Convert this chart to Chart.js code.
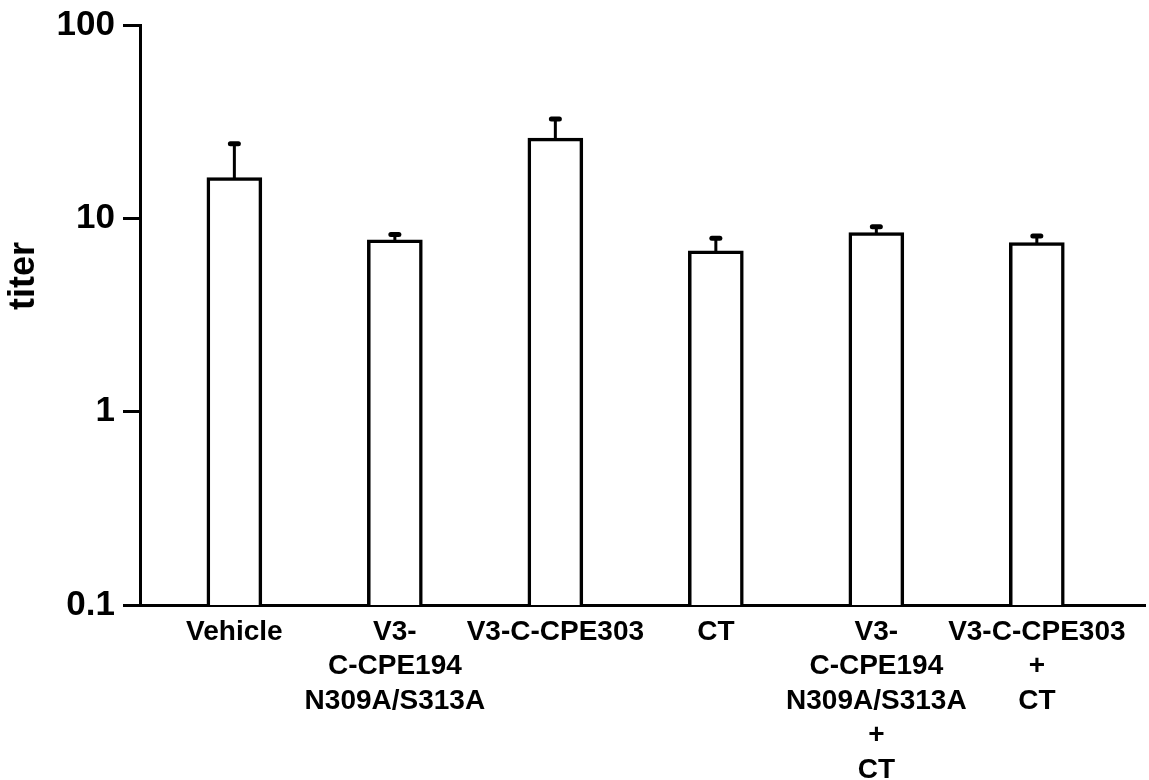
<!DOCTYPE html>
<html>
<head>
<meta charset="utf-8">
<script src="https://cdn.jsdelivr.net/npm/chart.js@4.4.1/dist/chart.umd.min.js"></script>
<style>
  html, body { margin: 0; padding: 0; background: #fff; }
</style>
</head>
<body>
<canvas id="titerChart" width="1149" height="780"></canvas>
<script>
// datos
const groupLabels = [
  ['Vehicle'],
  ['V3-', 'C-CPE194', 'N309A/S313A'],
  ['V3-C-CPE303'],
  ['CT'],
  ['V3-', 'C-CPE194', 'N309A/S313A', '+', 'CT'],
  ['V3-C-CPE303', '+', 'CT']
];
const titerMean = [16.3, 7.77, 26.1, 6.82, 8.48, 7.53];
const titerErr = [8.1, 0.5, 6.7, 1.1, 0.6, 0.6];
const yTicks = [0.1, 1, 10, 100];
const yTickLabels = ['0.1', '1', '10', '100'];
const yTitle = 'titer';

const FONT = '"Liberation Sans", Arial, Helvetica, sans-serif';

// barras de error (solo hacia arriba)
const errorBars = {
  id: 'errorBars',
  afterDatasetsDraw(chart) {
    const { ctx } = chart;
    const y = chart.scales.y;
    const meta = chart.getDatasetMeta(0);
    ctx.save();
    ctx.strokeStyle = '#000';
    ctx.lineCap = 'round';
    meta.data.forEach((bar, i) => {
      const top = y.getPixelForValue(titerMean[i] + titerErr[i]);
      ctx.lineWidth = 3;
      ctx.beginPath();
      ctx.moveTo(bar.x, bar.y);
      ctx.lineTo(bar.x, top);
      ctx.stroke();
      ctx.lineWidth = 5;
      ctx.beginPath();
      ctx.moveTo(bar.x - 4, top);
      ctx.lineTo(bar.x + 4, top);
      ctx.stroke();
    });
    ctx.restore();
  }
};

// titulo del eje y
const axisTitle = {
  id: 'axisTitle',
  afterDraw(chart) {
    const { ctx } = chart;
    ctx.save();
    ctx.translate(24, 276);
    ctx.rotate(-Math.PI / 2);
    ctx.fillStyle = '#000';
    ctx.font = 'bold 36px ' + FONT;
    ctx.textAlign = 'center';
    ctx.textBaseline = 'middle';
    ctx.fillText(yTitle, 0, 0);
    ctx.restore();
  }
};

const ctx = document.getElementById('titerChart').getContext('2d');
new Chart(ctx, {
  type: 'bar',
  data: {
    datasets: [{
      data: titerMean.map((v, i) => ({ x: i, y: v })),
      backgroundColor: '#fff',
      borderColor: '#000',
      borderWidth: 3.5,
      barThickness: 55
    }]
  },
  plugins: [errorBars, axisTitle],
  options: {
    responsive: false,
    animation: false,
    layout: { padding: { left: 0, top: 24, right: 4, bottom: 0 } },
    plugins: {
      legend: { display: false },
      tooltip: { enabled: false }
    },
    scales: {
      x: {
        type: 'linear',
        offset: false,
        min: -0.588,
        max: 5.674,
        grid: { display: false },
        border: { display: true, color: '#000', width: 3 },
        afterBuildTicks: (scale) => { scale.ticks = groupLabels.map((_, i) => ({ value: i })); },
        afterFit: (scale) => { scale.height = 175; },
        ticks: {
          autoSkip: false,
          maxRotation: 0,
          padding: 2,
          color: '#000',
          font: { family: FONT, size: 28, weight: 'bold', lineHeight: 1.23 },
          callback: (v) => groupLabels[v]
        }
      },
      y: {
        type: 'logarithmic',
        min: 0.1,
        max: 100,
        grid: {
          display: true,
          drawOnChartArea: false,
          drawTicks: true,
          tickLength: 17,
          lineWidth: 3,
          tickWidth: 3,
          color: '#000',
          tickColor: '#000'
        },
        border: { display: true, color: '#000', width: 3 },
        afterBuildTicks: (scale) => { scale.ticks = yTicks.map(v => ({ value: v })); },
        afterFit: (scale) => { scale.width = 140; },
        ticks: {
          padding: 8,
          color: '#000',
          font: { family: FONT, size: 35, weight: 'bold', lineHeight: 1 },
          callback: (v) => yTickLabels[yTicks.indexOf(v)]
        }
      }
    }
  }
});
</script>
</body>
</html>
